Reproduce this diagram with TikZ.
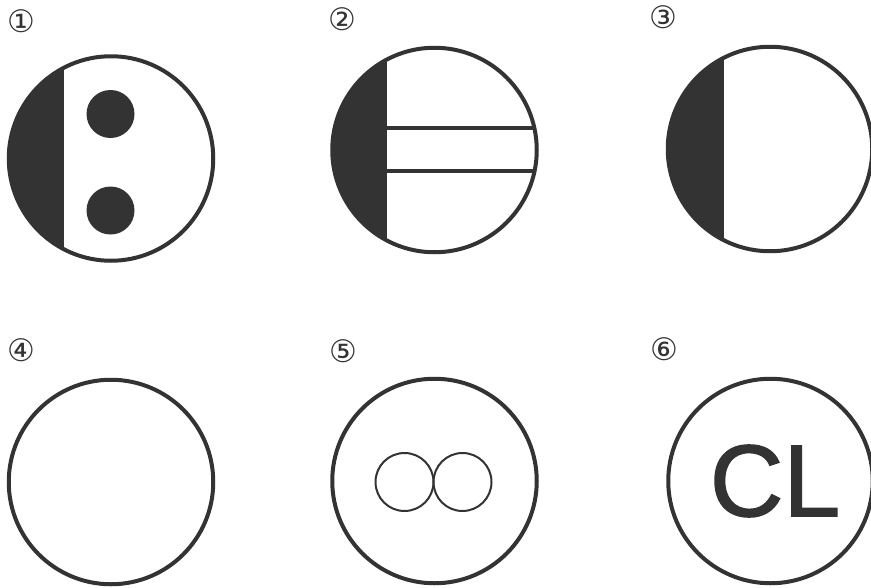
\documentclass[tikz,border=0pt]{standalone}
\usepackage{fontspec}
\setmainfont{DejaVu Sans}
\newfontfamily\capsfont[FakeBold=1.4]{Liberation Sans}
\definecolor{inkdark}{HTML}{333333}
\begin{document}
\begin{tikzpicture}[
    x=1pt, y=-1pt,
    dial/.style={circle, draw=inkdark, line width=4pt, minimum size=204.5pt, inner sep=0pt},
    dot/.style={circle, fill=inkdark, minimum size=48pt, inner sep=0pt},
    ring/.style={circle, draw=inkdark, line width=2pt, minimum size=58pt, inner sep=0pt},
    number/.style={inner sep=0pt, text=inkdark, font=\fontsize{31}{31}\selectfont},
    bar/.style={draw=inkdark, line width=4pt}
]
\useasboundingbox (0,0) rectangle (871,587);

% Numbers
\node[number] (n1) at (21,21) {①};
\node[number] (n2) at (342,19) {②};
\node[number] (n3) at (663,17) {③};
\node[number] (n4) at (21,350) {④};
\node[number] (n5) at (343,351) {⑤};
\node[number] (n6) at (664,349) {⑥};

% Dark segments
\begin{scope}
\clip (111,158.5) circle (102);
\fill[inkdark] (0,50) rectangle (64,270);
\end{scope}
\begin{scope}
\clip (434.5,150) circle (102);
\fill[inkdark] (325,40) rectangle (387,260);
\end{scope}
\begin{scope}
\clip (770,149) circle (102);
\fill[inkdark] (660,40) rectangle (724,260);
\end{scope}

% Top row
\node[dial] (d1) at (111,158.5) {};
\node[dial] (d2) at (434.5,150) {};
\node[dial] (d3) at (770,149) {};
\node[dot] (s1) at (110.5,114) {};
\node[dot] (s2) at (110.5,210.5) {};

% Bars of the second dial
\coordinate (a1) at (387,128);
\coordinate (b1) at (535,128);
\coordinate (a2) at (387,171);
\coordinate (b2) at (535,171);
\draw[bar] (a1) -- (b1);
\draw[bar] (a2) -- (b2);

% Bottom row
\node[dial] (d4) at (111,482) {};
\node[dial] (d5) at (434.5,481) {};
\node[dial] (d6) at (770.5,481) {};
\node[ring] (r1) at (404.5,482) {};
\node[ring] (r2) at (462.5,482) {};
\node[inner sep=0pt, text=inkdark, font=\capsfont\fontsize{102}{102}\selectfont] (cl) at (775,481) {CL};

\end{tikzpicture}
\end{document}
